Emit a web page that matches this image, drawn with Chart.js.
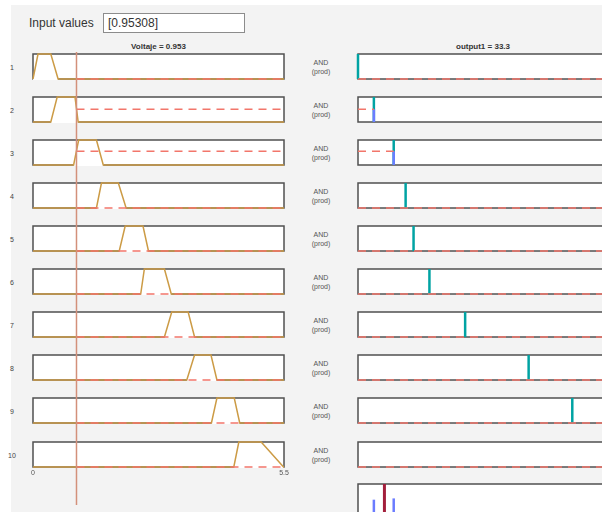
<!DOCTYPE html>
<html>
<head>
<meta charset="utf-8">
<title>Rule viewer</title>
<script src="https://cdn.jsdelivr.net/npm/chart.js@4.4.1/dist/chart.umd.min.js"></script>
<style>
  html, body { margin: 0; padding: 0; overflow: hidden; background: #fff; }
  #stage { position: relative; width: 602px; height: 512px; overflow: hidden; background: #fff;
           font-family: "Liberation Sans", Arial, sans-serif; }
  #bg { position: absolute; left: 11px; top: 5px; right: 0; bottom: 0; background: #f3f3f3; }
  canvas { position: absolute; }
  .txt { position: absolute; white-space: nowrap; transform: translate(-50%, -50%); line-height: 1; }
  .rownum { font-size: 7px; color: #444; }
  .rule-op { font-size: 7px; color: #555; text-align: center; line-height: 9px; }
  .head { font-size: 8px; font-weight: bold; color: #333; }
  #inLabel { position: absolute; left: 29px; top: 16px; font-size: 12px; color: #333; }
  #inBox { position: absolute; left: 103px; top: 13px; width: 136px; height: 18px; border: 1px solid #8c8c8c;
           background: #fff; font-size: 12px; color: #333; line-height: 18px; padding-left: 4px; box-sizing: content-box; }
</style>
</head>
<body>
<div id="stage"><div id="bg"></div></div>
<script>
// ---- fuzzy system data ----
const inputName = 'Voltaje';
const outputName = 'output1';
const inputValue = 0.95308;
const inputRange = [0, 5.5];
const inputTicks = [0, 5.5];
const ruleNumbers = ['1', '2', '3', '4', '5', '6', '7', '8', '9', '10'];
const ruleOperator = ['AND', '(prod)'];

// trapezoidal membership functions of the input, one per rule
const mfStart     = [0.00, 0.39, 0.89, 1.39, 1.89, 2.36, 2.88, 3.37, 3.91, 4.40];
const mfRiseEnd   = [0.11, 0.53, 1.00, 1.50, 2.02, 2.44, 3.04, 3.54, 4.03, 4.51];
const mfFallStart = [0.39, 0.92, 1.39, 1.87, 2.41, 2.88, 3.40, 3.90, 4.41, 5.00];
const mfEnd       = [0.55, 0.99, 1.54, 2.04, 2.53, 3.03, 3.54, 4.03, 4.53, 5.49];

// firing strength of each rule at the current input
const ruleFiring = [0, 0.51, 0.55, 0, 0, 0, 0, 0, 0, 0];

// constant (singleton) consequents
const outputRange = [0, 315];
const ruleOutput = [0, 20, 45, 60, 70, 90, 135, 215, 270, 315];
const outputValue = 33.3;

// ---- layout ----
const ROW0 = 53.6, ROW_STEP = 43.1, ROW_H = 25;
const IN_LEFT = 33, IN_W = 251;
const OUT_LEFT = 358, OUT_W = 250;
const AGG_TOP = 484, AGG_H = 32;
const PAD = 8;

const C_MF = '#cc9b45';
const C_FIRE = '#f2766b';
const C_INDEX = '#d3907a';
const C_SINGLE = '#00a3a3';
const C_BLUE = '#6b7cff';
const C_OUT = '#a31f3c';
const C_FRAME = '#505050';

const stage = document.getElementById('stage');

function addText(cls, x, y, html) {
  const d = document.createElement('div');
  d.className = 'txt ' + cls;
  d.style.left = x + 'px';
  d.style.top = y + 'px';
  d.innerHTML = html;
  stage.appendChild(d);
}

function makeCanvas(left, top, w, h) {
  const c = document.createElement('canvas');
  c.width = w; c.height = h;
  c.style.left = left + 'px';
  c.style.top = top + 'px';
  c.style.width = w + 'px';
  c.style.height = h + 'px';
  stage.appendChild(c);
  return c;
}

// white plot area with a dark frame, under the data
const panelFrame = {
  id: 'panelFrame',
  beforeDatasetsDraw(chart) {
    const a = chart.chartArea, ctx = chart.ctx;
    ctx.save();
    ctx.fillStyle = '#ffffff';
    ctx.fillRect(a.left, a.top, a.right - a.left, a.bottom - a.top);
    ctx.strokeStyle = C_FRAME;
    ctx.lineWidth = 1.5;
    ctx.strokeRect(a.left, a.top, a.right - a.left, a.bottom - a.top);
    ctx.restore();
  }
};

function line(data, color, width, dash) {
  return {
    data, borderColor: color, borderWidth: width, borderDash: dash || [],
    showLine: true, pointRadius: 0, tension: 0, clip: false, fill: false
  };
}

function baseOptions(range, xExtra) {
  return {
    animation: false, responsive: false, events: [],
    layout: { padding: PAD },
    plugins: { legend: { display: false }, tooltip: { enabled: false } },
    scales: {
      x: Object.assign({ type: 'linear', min: range[0], max: range[1], display: false }, xExtra || {}),
      y: { type: 'linear', min: 0, max: 1, display: false }
    }
  };
}

// ---- text ----
const inLabel = document.createElement('div');
inLabel.id = 'inLabel'; inLabel.textContent = 'Input values';
stage.appendChild(inLabel);
const inBox = document.createElement('div');
inBox.id = 'inBox'; inBox.textContent = '[' + inputValue + ']';
stage.appendChild(inBox);

addText('head', IN_LEFT + IN_W / 2, 46.5, inputName + ' = ' + inputValue.toFixed(3));
addText('head', OUT_LEFT + OUT_W / 2, 46.5, outputName + ' = ' + outputValue.toFixed(1));

// ---- rule rows ----
ruleNumbers.forEach((num, i) => {
  const top = Math.round(ROW0 + ROW_STEP * i);
  const mid = top + ROW_H / 2;
  addText('rownum', 12, mid, num);
  addText('rule-op', 321, mid + 0.5, ruleOperator.join('<br>'));

  const f = ruleFiring[i];
  const last = i === ruleNumbers.length - 1;

  // input membership panel
  const extraH = last ? 12 : 0;
  const cIn = makeCanvas(IN_LEFT - PAD, top - PAD, IN_W + 2 * PAD, ROW_H + 2 * PAD + extraH);
  const xIn = last ? {
    display: true,
    afterBuildTicks: s => { s.ticks = inputTicks.map(v => ({ value: v })); },
    afterFit: s => { s.height = 12; },
    grid: { display: false, drawTicks: false },
    border: { display: false },
    ticks: { autoSkip: false, maxRotation: 0, padding: 2, color: '#555',
             font: { size: 7, family: '"Liberation Sans", Arial, sans-serif' },
             callback: v => String(v) }
  } : null;
  new Chart(cIn, {
    type: 'scatter',
    data: {
      datasets: [
        line([{ x: inputValue, y: f }, { x: inputRange[1], y: f }], C_FIRE, 1.5, [8, 6]),
        line([{ x: inputRange[0], y: 0 }, { x: mfStart[i], y: 0 }, { x: mfRiseEnd[i], y: 1 },
              { x: mfFallStart[i], y: 1 }, { x: mfEnd[i], y: 0 }, { x: inputRange[1], y: 0 }], C_MF, 1.5),
        line([{ x: mfStart[i], y: 0 }, { x: mfEnd[i], y: 0 }], '#ffffff', 2)
      ]
    },
    options: baseOptions(inputRange, xIn),
    plugins: [panelFrame]
  });

  // consequent panel
  const o = ruleOutput[i];
  const cOut = makeCanvas(OUT_LEFT - PAD, top - PAD, OUT_W + 2 * PAD, ROW_H + 2 * PAD);
  const fireLine = f > 0
    ? [{ x: outputRange[0], y: f }, { x: o, y: f }]
    : [{ x: outputRange[0], y: 0 }, { x: outputRange[1], y: 0 }];
  new Chart(cOut, {
    type: 'scatter',
    data: {
      datasets: [
        line(fireLine, C_FIRE, 1.5, [8, 6]),
        line(f > 0 ? [{ x: o, y: 0 }, { x: o, y: f }] : [], C_BLUE, 2.5),
        line([{ x: o, y: 0 }, { x: o, y: 1 }], C_SINGLE, 2.5)
      ]
    },
    options: baseOptions(outputRange),
    plugins: [panelFrame]
  });
});

// ---- aggregated output ----
const cAgg = makeCanvas(OUT_LEFT - PAD, AGG_TOP - PAD, OUT_W + 2 * PAD, AGG_H + 2 * PAD);
const aggSets = [line([{ x: outputValue, y: 0 }, { x: outputValue, y: 1 }], C_OUT, 3)];
ruleOutput.forEach((o, i) => {
  if (ruleFiring[i] > 0) aggSets.push(line([{ x: o, y: 0 }, { x: o, y: ruleFiring[i] }], C_BLUE, 2.5));
});
new Chart(cAgg, {
  type: 'scatter',
  data: { datasets: aggSets },
  options: baseOptions(outputRange),
  plugins: [panelFrame]
});

// ---- input index line across all input panels ----
const IDX_TOP = 52, IDX_BOTTOM = 505;
const cIdx = makeCanvas(IN_LEFT - PAD, IDX_TOP - PAD, IN_W + 2 * PAD, IDX_BOTTOM - IDX_TOP + 2 * PAD);
new Chart(cIdx, {
  type: 'scatter',
  data: { datasets: [line([{ x: inputValue, y: 0 }, { x: inputValue, y: 1 }], C_INDEX, 1.5)] },
  options: baseOptions(inputRange)
});
</script>
</body>
</html>
